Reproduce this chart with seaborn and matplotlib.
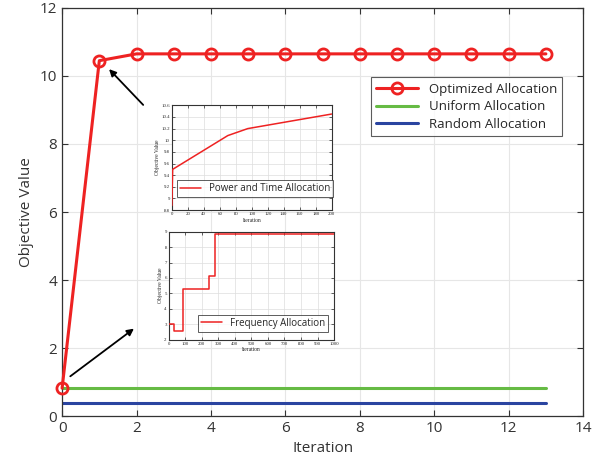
import numpy as np
import pandas as pd
import matplotlib
matplotlib.use("Agg")
import matplotlib.pyplot as plt
import seaborn as sns

# main chart data
iters = list(range(0, 14))
optimized = [0.82, 10.45, 10.65, 10.65, 10.65, 10.65, 10.65, 10.65, 10.65, 10.65, 10.65, 10.65, 10.65, 10.65]
uniform = [0.82] * 14
random_alloc = [0.37] * 14

# inset 1: power and time allocation
pt_x = [0, 1, 70, 95, 200]
pt_y = [8.88, 9.5, 10.08, 10.2, 10.45]

# inset 2: frequency allocation (step curve)
fr_x = [0, 34, 34, 85, 85, 241, 241, 277, 277, 1000]
fr_y = [3.0, 3.0, 2.6, 2.6, 5.3, 5.3, 6.1, 6.1, 8.88, 8.88]

sns.set_style("whitegrid")
plt.rcParams['font.family'] = ['Open Sans', 'DejaVu Sans']

fig = plt.figure(figsize=(6.03, 4.68), dpi=100)
ax = fig.add_axes([0.103, 0.111, 0.864, 0.872])

df = pd.DataFrame({"Iteration": iters * 3,
                   "val": optimized + uniform + random_alloc,
                   "series": ["Optimized Allocation"] * 14 + ["Uniform Allocation"] * 14 + ["Random Allocation"] * 14})

colors = {"Optimized Allocation": "#ee2222", "Uniform Allocation": "#66bb44", "Random Allocation": "#2a44a0"}
for name in ["Optimized Allocation", "Uniform Allocation", "Random Allocation"]:
    sub = df[df.series == name]
    kw = dict(marker="o", markersize=8, markerfacecolor="none", markeredgewidth=2,
              markeredgecolor=colors[name], clip_on=False) if name.startswith("Opt") else {}
    sns.lineplot(data=sub, x="Iteration", y="val", ax=ax, color=colors[name], lw=2.2,
                 label=name, zorder=3 if name.startswith("Opt") else 2, **kw)

ax.set_xlim(0, 14)
ax.set_ylim(0, 12)
ax.set_xticks(range(0, 15, 2))
ax.set_yticks(range(0, 13, 2))
ax.set_xlabel("Iteration", fontsize=11, color="#333333")
ax.set_ylabel("Objective Value", fontsize=11, color="#333333")
ax.tick_params(labelsize=11, colors="#333333", direction="in", length=4, width=0.8)
ax.tick_params(axis="both", which="both", top=True, right=True, bottom=True, left=True)
ax.grid(True, color="#e6e6e6", lw=0.8)
for s in ax.spines.values():
    s.set_color("#333333")
    s.set_linewidth(0.9)

leg = ax.legend(loc="upper right", bbox_to_anchor=(0.973, 0.846), fontsize=9.5,
                frameon=True, fancybox=False, handlelength=3.2, borderpad=0.4,
                labelspacing=0.35)
leg.get_frame().set_edgecolor("#333333")
leg.get_frame().set_linewidth(0.8)

# arrows
ax.annotate("", xy=(1.21, 10.26), xytext=(2.23, 9.09),
            arrowprops=dict(arrowstyle="-|>", color="black", lw=1.3, mutation_scale=10))
ax.annotate("", xy=(1.99, 2.62), xytext=(0.16, 1.12),
            arrowprops=dict(arrowstyle="-|>", color="black", lw=1.3, mutation_scale=10))


def style_inset(a):
    a.grid(True, color="#dddddd", lw=0.5)
    a.tick_params(labelsize=3.5, direction="in", length=2, width=0.5, pad=1.5,
                  top=True, right=True, bottom=True, left=True)
    for lab in a.get_xticklabels() + a.get_yticklabels():
        lab.set_family("Liberation Serif")
    for s in a.spines.values():
        s.set_color("#333333")
        s.set_linewidth(0.8)
        s.set_zorder(1)
    a.set_facecolor("white")


ax1 = fig.add_axes([0.285, 0.551, 0.265, 0.224])
sns.lineplot(x=pt_x, y=pt_y, ax=ax1, color="#ee2222", lw=1.1, estimator=None,
             label="Power and Time Allocation", zorder=4)
ax1.set_xlim(0, 200)
ax1.set_ylim(8.8, 10.6)
ax1.set_xticks(range(0, 201, 20))
ax1.set_yticks(np.round(np.arange(8.8, 10.61, 0.2), 1))
ax1.set_yticklabels(["8.8", "9", "9.2", "9.4", "9.6", "9.8", "10", "10.2", "10.4", "10.6"])
ax1.set_xlabel("Iteration", fontsize=4, family="Liberation Serif", labelpad=1)
ax1.set_ylabel("Objective Value", fontsize=4, family="Liberation Serif", labelpad=1)
style_inset(ax1)
l1 = ax1.legend(loc="lower left", bbox_to_anchor=(0.0, 0.08), fontsize=7, fancybox=False,
                handlelength=2.2, borderpad=0.3)
l1.get_frame().set_edgecolor("#333333")
l1.get_frame().set_linewidth(0.7)

ax2 = fig.add_axes([0.280, 0.274, 0.274, 0.231])
sns.lineplot(x=fr_x, y=fr_y, ax=ax2, color="#ee2222", lw=1.1, sort=False, estimator=None,
             label="Frequency Allocation", zorder=4)
ax2.set_xlim(0, 1000)
ax2.set_ylim(2, 9)
ax2.set_xticks(range(0, 1001, 100))
ax2.set_yticks(range(2, 10))
ax2.set_xlabel("Iteration", fontsize=4, family="Liberation Serif", labelpad=1)
ax2.set_ylabel("Objective Value", fontsize=4, family="Liberation Serif", labelpad=1)
style_inset(ax2)
l2 = ax2.legend(loc="lower center", bbox_to_anchor=(0.57, 0.03), fontsize=7, fancybox=False,
                handlelength=2.2, borderpad=0.3)
l2.get_frame().set_edgecolor("#333333")
l2.get_frame().set_linewidth(0.7)

fig.savefig("out.png", dpi=100)
